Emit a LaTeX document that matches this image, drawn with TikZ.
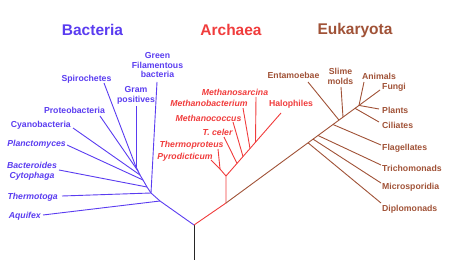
\documentclass[tikz,border=0pt]{standalone}
\usepackage{fontspec}
\setmainfont{Liberation Sans}
\definecolor{cB}{RGB}{90,60,240}
\definecolor{cR}{RGB}{240,60,60}
\definecolor{cE}{RGB}{160,82,55}
\begin{document}
\begin{tikzpicture}[x=1pt,y=-1pt,
  bline/.style={cB,line width=0.9pt},
  rline/.style={cR,line width=0.9pt},
  eline/.style={cE,line width=0.9pt},
  lbl/.style={inner sep=0pt,font=\fontsize{8.7}{9.5}\selectfont\bfseries,align=center},
  ilbl/.style={inner sep=0pt,font=\fontsize{8.7}{9.5}\selectfont\bfseries\itshape,align=center},
  ttl/.style={inner sep=0pt,font=\fontsize{15.5}{18}\selectfont\bfseries},
]
\useasboundingbox (0,0) rectangle (450,267);
% titles
\node[ttl,text=cB] (tB) at (92.5,30) {Bacteria};
\node[ttl,text=cR] (tA) at (231,30) {Archaea};
\node[ttl,text=cE] (tE) at (355,30) {Eukaryota};
% ---------- root
\coordinate (root) at (194,225);
\coordinate (rootb) at (194,260);
\draw[line width=0.9pt,black!85] (root) -- (rootb);
% ---------- Bacteria
\coordinate (b1) at (160,201);
\coordinate (b2) at (151,193);
\coordinate (b3) at (147,187);
\coordinate (b4) at (143,180);
\coordinate (b5) at (140,175);
\coordinate (b6) at (138,171);
\coordinate (b7) at (136,167);
\coordinate (eAq) at (43,215);
\coordinate (eTh) at (62,196);
\coordinate (eGr) at (157,82);
\coordinate (eBa) at (59,170);
\coordinate (ePl) at (67,145);
\coordinate (eCy) at (73,128);
\coordinate (ePr) at (100,116);
\coordinate (eSp) at (104,83);
\coordinate (eGp) at (136,106);
\draw[bline] (root) -- (b1) -- (b2) -- (b3) -- (b4) -- (b5) -- (b6) -- (b7);
\draw[bline] (b1) -- (eAq);
\draw[bline] (b2) -- (eTh);
\draw[bline] (b2) -- (eGr);
\draw[bline] (b3) -- (eBa);
\draw[bline] (b4) -- (ePl);
\draw[bline] (b5) -- (eCy);
\draw[bline] (b6) -- (ePr);
\draw[bline] (b7) -- (eSp);
\draw[bline] (b7) -- (eGp);
\node[ilbl,text=cB,anchor=base east] (lAq) at (41,218.3) {Aquifex};
\node[ilbl,text=cB,anchor=base east] (lTh) at (58,199.3) {Thermotoga};
\node[ilbl,text=cB] (lBa) at (32,171.5) {Bacteroides\\Cytophaga};
\node[ilbl,text=cB,anchor=base east] (lPl) at (66,146.3) {Planctomyces};
\node[lbl,text=cB,anchor=base east] (lCy) at (71,127.3) {Cyanobacteria};
\node[lbl,text=cB,anchor=base] (lPr) at (74.5,113.3) {Proteobacteria};
\node[lbl,text=cB,anchor=base] (lSp) at (86.5,81.3) {Spirochetes};
\node[lbl,text=cB] (lGp) at (136,95.5) {Gram\\positives};
\node[lbl,text=cB] (lGr) at (157.5,65.5) {Green\\Filamentous\\bacteria};
% ---------- Archaea
\coordinate (a0) at (226,203);
\coordinate (a1) at (226,176);
\coordinate (a2) at (220,169);
\coordinate (eTp) at (218,149);
\coordinate (ePy) at (211,160);
\coordinate (eHa) at (281,113);
\coordinate (aTc) at (237,163.4);
\coordinate (aMc) at (243,156.5);
\coordinate (aMb) at (250,148.5);
\coordinate (aMs) at (255.5,142.2);
\coordinate (eTc) at (224,137);
\coordinate (eMc) at (233,122);
\coordinate (eMb) at (243,108);
\coordinate (eMs) at (256,97);
\draw[rline] (root) -- (a0) -- (a1);
\draw[rline] (a1) -- (a2) -- (eTp);
\draw[rline] (a2) -- (ePy);
\draw[rline] (a1) -- (eHa);
\draw[rline] (aTc) -- (eTc);
\draw[rline] (aMc) -- (eMc);
\draw[rline] (aMb) -- (eMb);
\draw[rline] (aMs) -- (eMs);
\node[ilbl,text=cR,anchor=base] (lMs) at (235,95.3) {Methanosarcina};
\node[ilbl,text=cR,anchor=base] (lMb) at (209,106.3) {Methanobacterium};
\node[ilbl,text=cR,anchor=base] (lMc) at (208.5,121.3) {Methanococcus};
\node[ilbl,text=cR,anchor=base] (lTc) at (217.5,135.3) {T. celer};
\node[ilbl,text=cR,anchor=base] (lTp) at (191.5,147.3) {Thermoproteus};
\node[ilbl,text=cR,anchor=base] (lPy) at (185,159.3) {Pyrodicticum};
\node[lbl,text=cR,anchor=base] (lHa) at (291,106.3) {Halophiles};
% ---------- Eukaryota
\coordinate (eFu) at (380,90);
\coordinate (nD) at (308,142.8);
\coordinate (nMi) at (313,139.1);
\coordinate (nT) at (318,135.5);
\coordinate (nF) at (333,124.5);
\coordinate (nEn) at (339,120.1);
\coordinate (nSl) at (343,117.1);
\coordinate (nCi) at (355,108.3);
\coordinate (nPA) at (359,105.4);
\coordinate (xD) at (381,203);
\coordinate (xMi) at (381,183);
\coordinate (xT) at (381,165);
\coordinate (xF) at (381,145);
\coordinate (xEn) at (308,82);
\coordinate (xSl) at (341,87);
\coordinate (xCi) at (379,122);
\coordinate (xPl) at (379,109);
\coordinate (xAn) at (364,82);
\draw[eline] (a0) -- (eFu);
\draw[eline] (nD) -- (xD);
\draw[eline] (nMi) -- (xMi);
\draw[eline] (nT) -- (xT);
\draw[eline] (nF) -- (xF);
\draw[eline] (nEn) -- (xEn);
\draw[eline] (nSl) -- (xSl);
\draw[eline] (nCi) -- (xCi);
\draw[eline] (nPA) -- (xPl);
\draw[eline] (nPA) -- (xAn);
\node[lbl,text=cE,anchor=base] (lEn) at (293.5,78.3) {Entamoebae};
\node[lbl,text=cE] (lSl) at (340.5,76.5) {Slime\\molds};
\node[lbl,text=cE,anchor=base] (lAn) at (379,79.3) {Animals};
\node[lbl,text=cE,anchor=base west] (lFu) at (382,89.3) {Fungi};
\node[lbl,text=cE,anchor=base west] (lPl2) at (382,113.3) {Plants};
\node[lbl,text=cE,anchor=base west] (lCi) at (382,128.3) {Ciliates};
\node[lbl,text=cE,anchor=base west] (lFl) at (382,150.3) {Flagellates};
\node[lbl,text=cE,anchor=base west] (lTr) at (382,171.3) {Trichomonads};
\node[lbl,text=cE,anchor=base west] (lMi) at (382,189.3) {Microsporidia};
\node[lbl,text=cE,anchor=base west] (lDi) at (382,211.3) {Diplomonads};
\end{tikzpicture}
\end{document}
